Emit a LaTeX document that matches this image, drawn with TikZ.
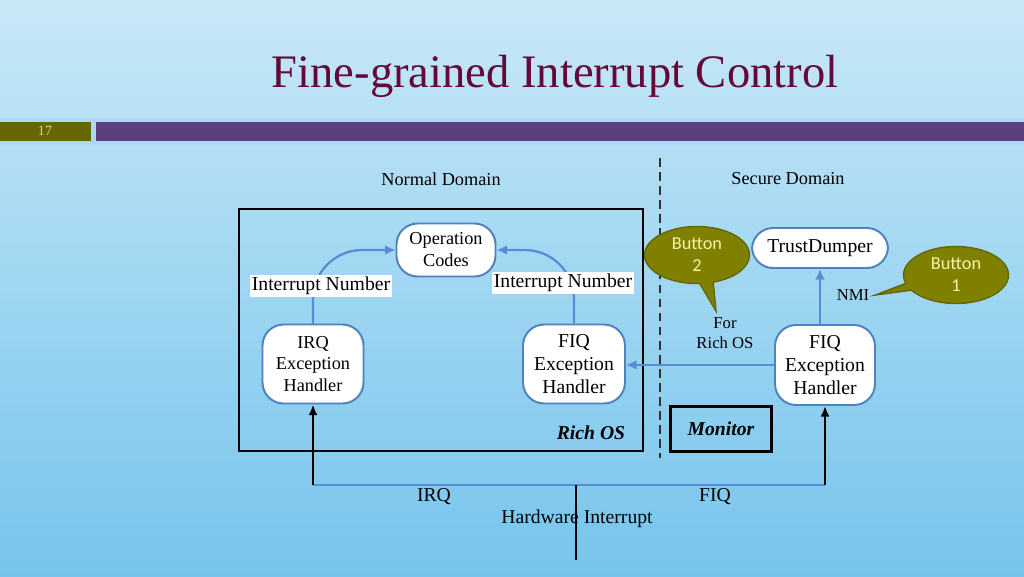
\documentclass[tikz,border=0pt]{standalone}
\usepackage{fontspec}
\setmainfont{Liberation Serif}
\newfontfamily\btnfont{Carlito}
\usetikzlibrary{shapes.callouts,arrows.meta}
\definecolor{bgtop}{RGB}{200,232,247}
\definecolor{bgmid}{RGB}{172,218,243}
\definecolor{bgbot}{RGB}{118,196,236}
\definecolor{stripblue}{RGB}{178,212,245}
\definecolor{olivebar}{RGB}{102,102,0}
\definecolor{purplebar}{RGB}{90,65,125}
\definecolor{titlecol}{RGB}{100,8,55}
\definecolor{nodeblue}{RGB}{79,129,189}
\definecolor{flowblue}{RGB}{85,142,213}
\definecolor{olivebtn}{RGB}{128,128,0}
\definecolor{olivedark}{RGB}{100,100,0}
\definecolor{btntext}{RGB}{245,245,170}

\begin{document}
\begin{tikzpicture}[x=0.02cm,y=-0.02cm,
    box/.style={draw=nodeblue,line width=1.1pt,fill=white,rounded corners=12pt,align=center,inner sep=0pt},
    flow/.style={draw=flowblue,line width=1.3pt,-{Latex[length=6pt,width=5.5pt]}},
    hw/.style={black,line width=1.3pt},
    small/.style={font=\fontsize{10.4}{12.5}\selectfont,align=center},
    big/.style={font=\fontsize{11.2}{13.3}\selectfont,align=center},
    numlab/.style={big,fill=white,inner sep=1pt},
    bubble/.style={ellipse callout,fill=olivebtn,draw=olivedark,line width=0.8pt,text=btntext,
      font=\btnfont\fontsize{10.4}{12.5}\selectfont,align=center,inner sep=0pt,
      minimum width=2.1cm,minimum height=1.14cm}]
  \useasboundingbox (0,0) rectangle (1024,576);
  \shade[top color=bgtop,middle color=bgmid,bottom color=bgbot] (0,0) rectangle (1024,576);

  \node[font=\fontsize{26.5}{30}\selectfont,text=titlecol] (title) at (555,76) {Fine-grained Interrupt Control};
  \fill[stripblue] (0,118) rectangle (1024,145);
  \fill[olivebar] (0,122) rectangle (91,141);
  \fill[purplebar] (96,122) rectangle (1024,141);
  \node[font=\fontsize{8}{9}\selectfont,text=btntext!80!olivebar] (pgnum) at (45,131) {17};

  \node[small] (normal) at (441,179) {Normal Domain};
  \node[small] (secure) at (788,179) {Secure Domain};
  \coordinate (dtop) at (660,158);
  \coordinate (dbot) at (660,458);
  \draw[black!80,line width=0.8pt,dash pattern=on 5pt off 3pt] (dtop) -- (dbot);

  \draw[line width=1.5pt] (239,209) rectangle (643,451);
  \node[font=\fontsize{11.2}{13}\selectfont\bfseries\itshape] (richos) at (591,433) {Rich OS};
  \node[draw,line width=1.3pt,minimum width=2.02cm,minimum height=0.9cm,
    font=\fontsize{11.2}{13}\selectfont\bfseries\itshape] (monitor) at (721,429) {Monitor};

  \node[box,small,minimum width=1.98cm,minimum height=1.06cm] (ops) at (446,250) {Operation\\Codes};
  \node[box,small,minimum width=2.02cm,minimum height=1.58cm] (irq) at (313,364) {IRQ\\Exception\\Handler};
  \node[box,big,minimum width=2.04cm,minimum height=1.58cm] (fiq) at (574,364) {FIQ\\Exception\\Handler};
  \node[box,big,minimum width=2.72cm,minimum height=0.8cm] (tdump) at (820,248) {TrustDumper};
  \node[box,big,minimum width=2.0cm,minimum height=1.6cm] (sfiq) at (825,365) {FIQ\\Exception\\Handler};

  \draw[flow,rounded corners=28pt] (irq.north) |- (ops.west);
  \draw[flow,rounded corners=28pt] (fiq.north) |- (ops.east);
  \node[numlab] (irqnum) at (321,286) {Interrupt Number};
  \node[numlab] (fiqnum) at (563,283) {Interrupt Number};
  \draw[flow] (sfiq.north -| tdump.south) -- (tdump.south);
  \draw[flow] (sfiq.west) -- (sfiq.west -| fiq.east);

  \node[small,font=\fontsize{9.5}{11.5}\selectfont] (forrich) at (725,333) {For\\Rich OS};
  \node[small,font=\fontsize{9.5}{11.5}\selectfont] (nmi) at (853,295) {NMI};
  \node[bubble,callout absolute pointer={(716,311)}] (btn2) at (697,255) {Button\\2};
  \node[bubble,callout absolute pointer={(nmi.east)}] (btn1) at (956,275) {Button\\1};

  \coordinate (bus) at (576,485);
  \coordinate (hwend) at (576,560);
  \draw[flowblue,line width=1.3pt] (bus -| irq.south) -- (bus -| sfiq.south);
  \draw[hw,-{Latex[length=6pt,width=5pt]}] (bus -| irq.south) -- (irq.south);
  \draw[hw,-{Latex[length=6pt,width=5pt]}] (bus -| sfiq.south) -- (sfiq.south);
  \draw[hw] (bus) -- (hwend);
  \node[big] (irqlab) at (434,497) {IRQ};
  \node[big] (fiqlab) at (715,497) {FIQ};
  \node[big] (hwlab) at (577,519) {Hardware Interrupt};
\end{tikzpicture}
\end{document}
